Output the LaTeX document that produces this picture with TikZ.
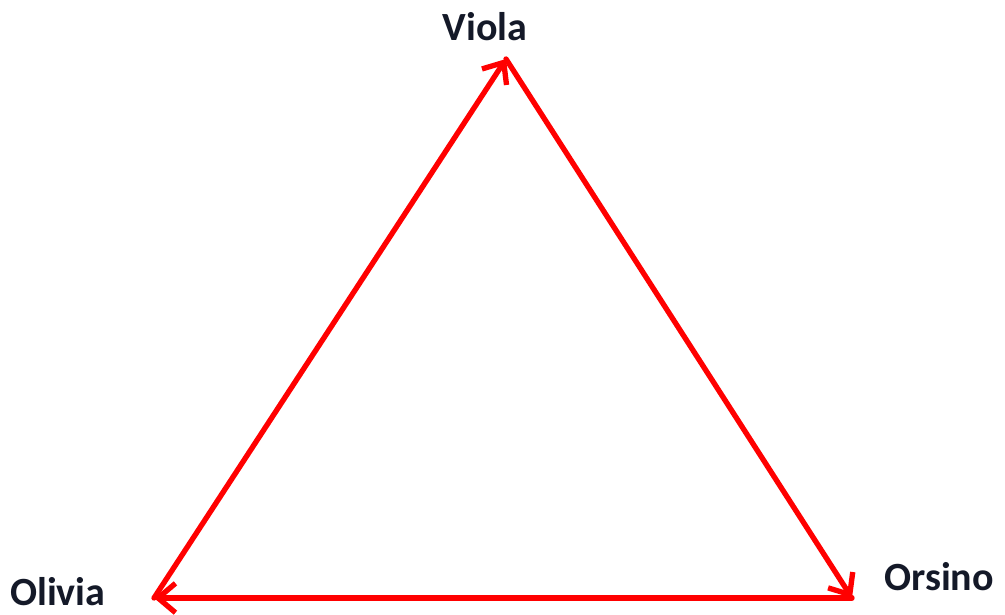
\documentclass[tikz,border=0pt]{standalone}
\usepackage{fontspec}
\setmainfont{Carlito}
\usetikzlibrary{arrows.meta}
\begin{document}
\begin{tikzpicture}[x=0.75pt,y=-0.75pt,
  edge/.style={draw={rgb,255:red,255;green,0;blue,0}, line width=4pt, line cap=round, line join=round,
    -{Straight Barb[length=13pt,width=22pt,line width=4pt]}},
  lbl/.style={font=\bfseries\fontsize{30}{36}\selectfont, text={rgb,255:red,20;green,25;blue,40}, inner sep=0pt}]
\useasboundingbox (0,0) rectangle (1005,614);
\coordinate (V) at (506,59);
\coordinate (O) at (154,598);
\coordinate (R) at (852,598);
\node[lbl, anchor=base] (tv) at (485,40) {Viola};
\node[lbl, anchor=base west] (to) at (10,605) {Olivia};
\node[lbl, anchor=base west] (tr) at (884,590) {Orsino};
\draw[edge] (O) -- (V);
\draw[edge] (V) -- (R);
\draw[edge] (R) -- (O);
\end{tikzpicture}
\end{document}
